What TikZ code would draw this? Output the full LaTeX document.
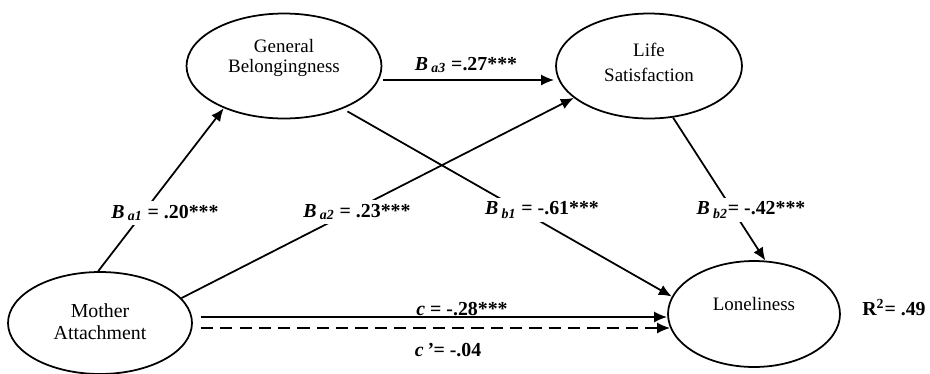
\documentclass[tikz,border=0pt]{standalone}
\usepackage{fontspec}
\setmainfont{Liberation Serif}
\usetikzlibrary{arrows.meta,calc,shapes.geometric}

\begin{document}
\begin{tikzpicture}[
  x=0.02cm, y=-0.02cm,
  font=\fontsize{10.8}{11.6}\selectfont,
  latent/.style={draw, ellipse, line width=1pt, inner sep=0pt},
  vname/.style={align=center, inner sep=0pt},
  coef/.style={font=\fontsize{11.3}{13}\selectfont\bfseries, inner sep=1pt},
  cut/.style={fill=white, inner sep=2pt},
  arr/.style={-{Latex[length=2.6mm,width=2.2mm]}, line width=1pt},
  dashline/.style={dash pattern=on 7pt off 4pt},
]
\useasboundingbox (0,0) rectangle (930,373);
% variables
\node[latent, minimum width=3.9cm, minimum height=2.1cm,
  label={[vname, yshift=4.5pt]center:{General\\Belongingness}}] (gb) at (284,66) {};
\node[latent, minimum width=3.72cm, minimum height=2.1cm,
  label={[vname, yshift=2pt]center:{Life\\[2.5pt]Satisfaction}}] (ls) at (649,66) {};
\node[latent, minimum width=3.68cm, minimum height=2.04cm,
  label={[vname, font=\fontsize{11.3}{12.5}\selectfont, yshift=1pt]center:{Mother\\Attachment}}] (ma) at (100,323) {};
\node[latent, minimum width=3.44cm, minimum height=2.12cm,
  label={[vname, yshift=5.5pt]center:{Loneliness}}] (lon) at (754,314) {};
% paths
\draw[arr] (ma.92) -- (gb.-145);
\draw[arr] (ma.17) -- (ls.-157);
\draw[arr] ($(gb.east)+(1,14)$) -- ($(ls.west)+(-1,14)$);
\draw[arr, shorten <=3pt] (gb.-36) -- (lon.168);
\draw[arr] (ls.-65) -- (lon.78);
\draw[arr] ($(ma.east)+(8,-6)$) -- ($(lon.west)+(0,3)$);
\draw[arr, dashline] ($(ma.east)+(8,5)$) -- ($(lon.west)+(3,14)$);
% coefficients
\node[coef, cut] (ba1) at (165,213) {\textit{B}\,\textsubscript{\textit{a1}} = .20***};
\node[coef, cut] (ba2) at (357,212) {\textit{B}\,\textsubscript{\textit{a2}} = .23***};
\node[coef] (ba3) at (466,65) {\textit{B}\,\textsubscript{\textit{a3}} =.27***};
\node[coef, cut] (bb1) at (542,210) {\textit{B}\,\textsubscript{\textit{b1}} = -.61***};
\node[coef, cut] (bb2) at (751,210) {\textit{B}\,\textsubscript{\textit{b2}}= -.42***};
\node[coef] (cc) at (462,309) {\textit{c} = -.28***};
\node[coef] (cp) at (448,350) {\textit{c\,'}= -.04};
\node[coef] (rsq) at (894,308) {R\textsuperscript{2}= .49};
\end{tikzpicture}
\end{document}
